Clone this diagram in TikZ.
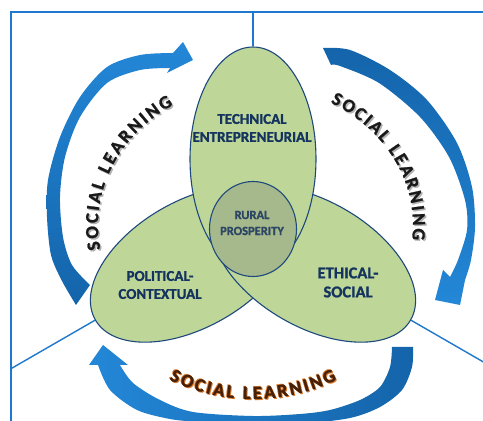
\documentclass[tikz,border=0pt]{standalone}
\usepackage{fontspec}
\setmainfont{Carlito}[BoldFont={Carlito Bold}, BoldFeatures={FakeBold=1.2}]
\usetikzlibrary{shapes.geometric,decorations.text}
\definecolor{petalgreen}{RGB}{190,215,152}
\definecolor{coregreen}{RGB}{166,185,140}
\definecolor{petalline}{RGB}{31,73,125}
\definecolor{labelblue}{RGB}{20,52,95}
\definecolor{coretext}{RGB}{45,70,100}
\definecolor{frameblue}{RGB}{30,120,205}
\definecolor{arrowdark}{RGB}{20,100,170}
\definecolor{arrowmid}{RGB}{35,135,215}
\definecolor{arrowlight}{RGB}{115,178,238}
\definecolor{loopbrown}{RGB}{70,32,8}
\definecolor{loopglow}{RGB}{215,120,45}
\tikzset{
  petal/.style={
    ellipse,
    draw=petalline,
    fill=petalgreen,
    line width=1.1pt,
    minimum width=126pt,
    minimum height=224pt,
    inner sep=0pt
  },
  petal-core/.style={
    petal,
    fill=coregreen,
    minimum width=87pt,
    minimum height=95pt
  },
  petal-label/.style={text=labelblue, font=\bfseries\fontsize{15}{18}\selectfont, align=center},
  frame-line/.style={draw=frameblue, line width=1.4pt},
  loop-text/.style={
    decorate,
    decoration={text along path, text align=fit to path, text color=#1,
      text={|\bfseries\fontsize{18.5}{18.5}\selectfont|SOCIAL LEARNING}}
  }
}

\begin{document}
\begin{tikzpicture}[x=1pt, y=1pt]
  \useasboundingbox (0,0) rectangle (483,421);
  \clip (0,0) rectangle (483,421);
  % frame
  \draw[frame-line] (11,409) rectangle (500,-20);
  % curved arrows
  \shade[top color=arrowmid, middle color=arrowlight, bottom color=arrowdark]
    plot[smooth] coordinates {(76,116) (62,140) (51,166) (47,204) (48,241) (60,284) (80,324) (107,354) (140,366) (173,368)}
    -- (183,379) -- (193,361) -- (167,348)
    -- plot[smooth] coordinates {(170,353) (140,351) (107,338) (80,304) (65,264) (60,224) (63,184) (72,156) (90,136)} -- cycle;
  \shade[top color=arrowdark, bottom color=arrowmid]
    plot[smooth] coordinates {(323,373) (350,371) (390,351) (427,321) (457,278) (472,234) (475,194) (471,161) (465,141)}
    -- (460,116) -- (435,121) -- (443,151)
    -- plot[smooth] coordinates {(450,144) (458,161) (467,191) (465,221) (449,264) (420,304) (379,338) (340,355) (331,356)} -- cycle;
  \shade[left color=arrowmid, middle color=arrowlight, right color=arrowdark]
    plot[smooth] coordinates {(413,74) (412,54) (402,31) (380,14) (350,3) (300,-3) (253,-4) (200,-1) (170,2) (137,11) (110,31) (98,56)}
    -- (89,56) -- (103,76) -- (128,56)
    -- plot[smooth] coordinates {(120,56) (133,38) (160,21) (193,9) (253,5) (300,7) (330,11) (360,21) (380,34) (390,54) (392,74)} -- cycle;
  % petals
  \node[petal, rotate=120] (polit) at (192.4,157) {};
  \node[petal, rotate=-120] (ethic) at (313.6,157) {};
  \node[petal] (techn) at (253,262) {};
  \node[petal-core] (rural) at (253,192) {};
  % spokes out to the frame
  \coordinate (spoke-top) at (253,409);
  \coordinate (spoke-left) at (11,52.3);
  \coordinate (spoke-right) at (493,53.5);
  \draw[frame-line] (techn.north) -- (spoke-top);
  \draw[frame-line] (polit.north) -- (spoke-left);
  \draw[frame-line] (ethic.north) -- (spoke-right);
  % labels
  \node[petal-label] (techn-text) at (252,293) {TECHNICAL\\ENTREPRENEURIAL};
  \node[petal-label, text=coretext, font=\bfseries\fontsize{12.5}{16}\selectfont] (rural-text) at (252,198) {RURAL\\PROSPERITY};
  \node[petal-label] (polit-text) at (160,136) {POLITICAL-\\CONTEXTUAL};
  \node[petal-label, font=\bfseries\fontsize{16.5}{19}\selectfont] (ethic-text) at (348,138.5) {ETHICAL-\\SOCIAL};
  % social learning along the arrows, with a soft shadow
  \path[loop-text=gray!60] ([shift={(190:155 and 140)}]254.5,194.5) arc[start angle=190, end angle=121, x radius=155, y radius=140];
  \path[loop-text=black!90] ([shift={(190:155 and 140)}]253,196) arc[start angle=190, end angle=121, x radius=155, y radius=140];
  \path[loop-text=gray!60] ([shift={(61:160 and 140)}]254.5,194.5) arc[start angle=61, end angle=-6, x radius=160, y radius=140];
  \path[loop-text=black!90] ([shift={(61:160 and 140)}]253,196) arc[start angle=61, end angle=-6, x radius=160, y radius=140];
  \foreach \dx/\dy in {1/-1, -0.8/0.8}
    \path[loop-text=loopglow] ([shift={(244:191)}]253+\dx,213+\dy) arc[start angle=244, end angle=296, radius=191];
  \path[loop-text=loopbrown] ([shift={(244:191)}]253,213) arc[start angle=244, end angle=296, radius=191];
\end{tikzpicture}
\end{document}
